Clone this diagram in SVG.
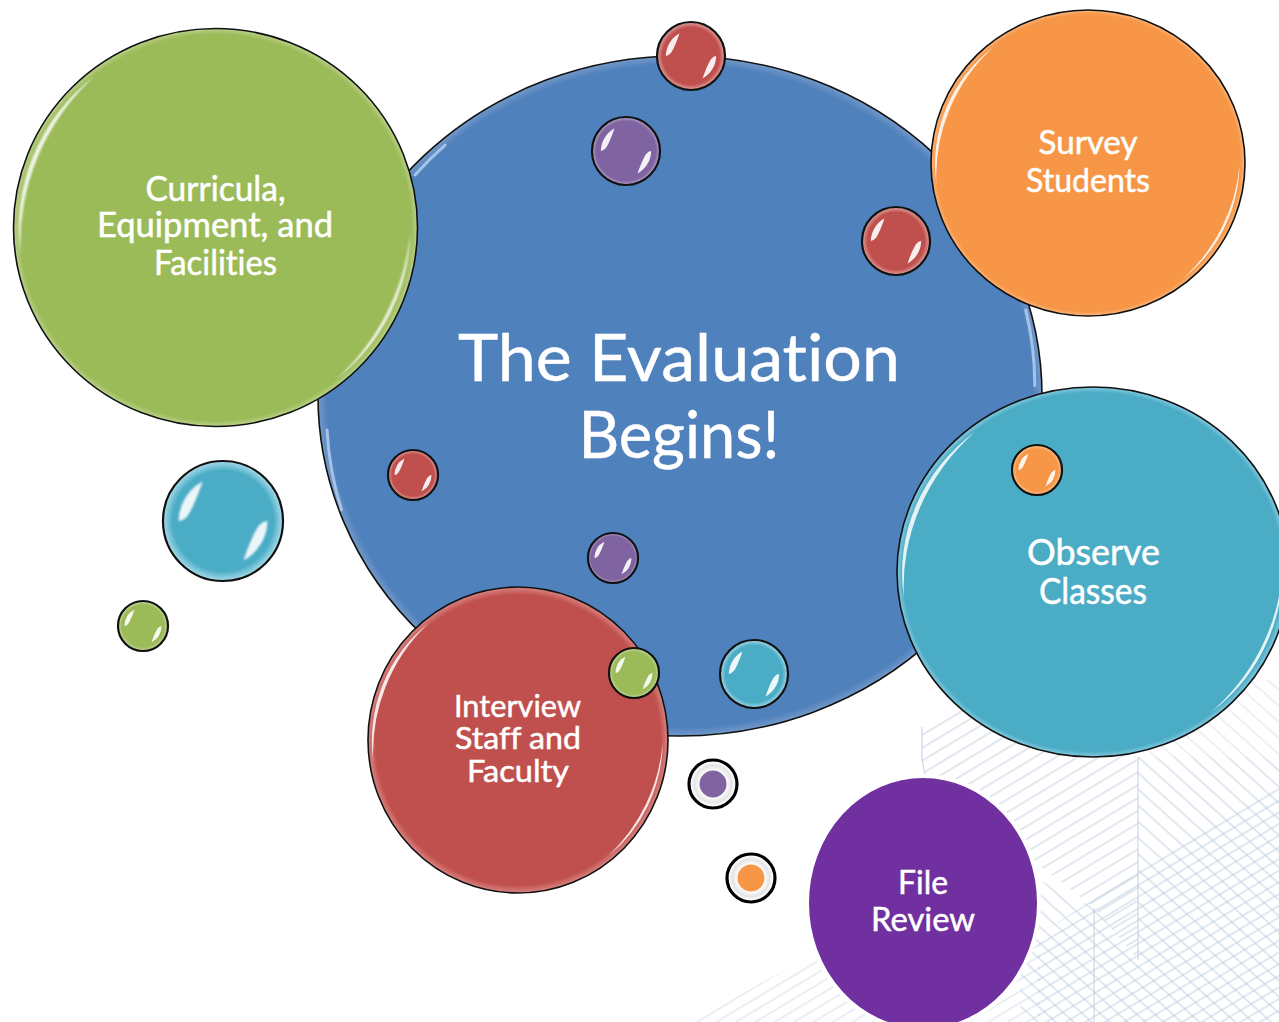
<svg xmlns="http://www.w3.org/2000/svg" xmlns:xlink="http://www.w3.org/1999/xlink" width="1279" height="1022" viewBox="0 0 1279 1022">
<style>
text{font-family:"Lato","Open Sans","Liberation Sans",sans-serif;fill:#fff;text-anchor:middle;font-variant-ligatures:none;stroke:#fff;stroke-width:.5}
.o{stroke:#111;stroke-width:1.6;vector-effect:non-scaling-stroke}
.os{stroke:#111;stroke-width:2.2;vector-effect:non-scaling-stroke}
.h{fill:none;stroke:#b4c4da;stroke-width:1;opacity:.8}
</style>
<defs>
<radialGradient id="gBlue"><stop offset=".975" stop-color="#4f81bd"/><stop offset="1" stop-color="#7399c9"/></radialGradient>
<radialGradient id="gGreen"><stop offset=".97" stop-color="#9bbb59"/><stop offset="1" stop-color="#bcd18c"/></radialGradient>
<radialGradient id="gOrange"><stop offset=".97" stop-color="#f79646"/><stop offset="1" stop-color="#fbb77f"/></radialGradient>
<radialGradient id="gTeal"><stop offset=".97" stop-color="#4bacc6"/><stop offset="1" stop-color="#85cbdf"/></radialGradient>
<radialGradient id="gRed"><stop offset=".95" stop-color="#c0504d"/><stop offset="1" stop-color="#d98583"/></radialGradient>
<radialGradient id="gPurple"><stop offset=".88" stop-color="#8064a2"/><stop offset="1" stop-color="#bcadcf"/></radialGradient>
<radialGradient id="sGreen"><stop offset=".84" stop-color="#9bbb59"/><stop offset="1" stop-color="#cadba3"/></radialGradient>
<radialGradient id="sTeal"><stop offset=".84" stop-color="#4bacc6"/><stop offset="1" stop-color="#a8dcea"/></radialGradient>
<radialGradient id="sRed"><stop offset=".84" stop-color="#c0504d"/><stop offset="1" stop-color="#e3a6a4"/></radialGradient>
<radialGradient id="sOrange"><stop offset=".84" stop-color="#f79646"/><stop offset="1" stop-color="#fbcb9c"/></radialGradient>
<radialGradient id="ringFill"><stop offset=".55" stop-color="#fff"/><stop offset=".78" stop-color="#e4e4e6"/><stop offset=".92" stop-color="#fff"/></radialGradient>
<filter id="soft" x="-10%" y="-10%" width="120%" height="120%"><feGaussianBlur stdDeviation=".004"/></filter>
<filter id="softS" x="-20%" y="-20%" width="140%" height="140%"><feGaussianBlur stdDeviation=".015"/></filter>
<path id="gloss" fill="#fff" opacity=".85" filter="url(#soft)" d="M-.965 .14A.972 .972 0 0 1-.6-.76A1.15 1.15 0 0 0-.965 .14ZM.965 .02A.972 .972 0 0 1 .6 .76A1.15 1.15 0 0 0 .965 .02Z"/>
<path id="glossB" fill="none" stroke="#a5c2e8" stroke-width="3" stroke-linecap="round" vector-effect="non-scaling-stroke" d="M-.732 -.65A.98 .98 0 0 1-.649 -.738M-.975 .1A.98 .98 0 0 0-.935 .335M.955 -.253A.98 .98 0 0 1 .98 -.03"/>
<path id="glossS" fill="#fff" opacity=".9" filter="url(#softS)" d="M-.74 0A.76 .76 0 0 1-.34-.66Q-.46 -.3-.58 -.1Q-.66 0-.74 0ZM.74 0A.76 .76 0 0 1 .34 .66Q.46 .3 .58 .1Q.66 0 .74 0Z"/>
<pattern id="hUp" width="14" height="11" patternUnits="userSpaceOnUse" patternTransform="rotate(-31)"><path class="h" d="M0 5H14"/></pattern>
<pattern id="hDown" width="14" height="12" patternUnits="userSpaceOnUse" patternTransform="rotate(42)"><path class="h" d="M0 5H14"/></pattern>
<pattern id="hUpF" width="14" height="10" patternUnits="userSpaceOnUse" patternTransform="rotate(-31)"><path class="h" d="M0 5H14"/></pattern>
</defs>

<rect width="1279" height="1022" fill="#fff"/>

<g id="background-hatch">
<polygon points="922,727 1138,600 1138,960 1094,908 925,775 922,760" fill="url(#hUp)"/>
<polygon points="1138,757 1279,757 1279,1022 1200,1022 1138,960" fill="url(#hDown)"/>
<polygon points="1150,680 1279,680 1279,757 1150,757" fill="url(#hDown)" opacity=".6"/>
<polygon points="1038,935 1279,780 1279,1022 1038,1022" fill="url(#hUpF)"/>
<polygon points="1020,870 1094,908 1200,1022 1020,1022" fill="url(#hDown)"/>
<polygon points="690,1022 830,945 1040,945 1040,1022" fill="url(#hUpF)" opacity=".7"/>
<path d="M922 727V760L925 775M1138 757V960M1094 908V1022" fill="none" stroke="#c3cfe2" stroke-width="1"/>
</g>

<g id="connectors"></g>

<g id="node-evaluation">
<g transform="translate(680 396) scale(362 340)"><circle r="1" fill="url(#gBlue)" class="o"/><use href="#glossB"/></g>
<text x="679" y="381" font-size="66" textLength="442" lengthAdjust="spacingAndGlyphs">The Evaluation</text>
<text x="679" y="458" font-size="66" textLength="201" lengthAdjust="spacingAndGlyphs">Begins!</text>
</g>

<g id="dot-red-top"><g transform="translate(691 56) scale(34)"><circle r="1" fill="url(#sRed)" class="os"/><use href="#glossS"/></g></g>
<g id="dot-purple-1"><g transform="translate(626 151) scale(34)"><circle r="1" fill="url(#gPurple)" class="os"/><use href="#glossS"/></g></g>
<g id="dot-red-right"><g transform="translate(896 241) scale(34)"><circle r="1" fill="url(#sRed)" class="os"/><use href="#glossS"/></g></g>
<g id="dot-red-left"><g transform="translate(413 475) scale(25)"><circle r="1" fill="url(#sRed)" class="os"/><use href="#glossS"/></g></g>
<g id="dot-purple-2"><g transform="translate(613 558) scale(25)"><circle r="1" fill="url(#gPurple)" class="os"/><use href="#glossS"/></g></g>
<g id="dot-teal-blue"><g transform="translate(754 674) scale(34)"><circle r="1" fill="url(#sTeal)" class="os"/><use href="#glossS"/></g></g>

<g id="node-curricula">
<g transform="translate(215.500 227.500) scale(202 199)"><circle r="1" fill="url(#gGreen)" class="o"/><use href="#gloss"/></g>
<text x="215.500" y="201" font-size="34" textLength="140" lengthAdjust="spacingAndGlyphs">Curricula,</text>
<text x="215" y="237" font-size="34" textLength="236" lengthAdjust="spacingAndGlyphs">Equipment, and</text>
<text x="215.500" y="275" font-size="34" textLength="123" lengthAdjust="spacingAndGlyphs">Facilities</text>
</g>

<g id="node-survey">
<g transform="translate(1088 163) scale(157 153)"><circle r="1" fill="url(#gOrange)" class="o"/><use href="#gloss"/></g>
<text x="1088" y="154" font-size="33" textLength="99" lengthAdjust="spacingAndGlyphs">Survey</text>
<text x="1088" y="192" font-size="33" textLength="124" lengthAdjust="spacingAndGlyphs">Students</text>
</g>

<g id="node-observe">
<g transform="translate(1093 572) scale(196 185)"><circle r="1" fill="url(#gTeal)" class="o"/><use href="#gloss"/></g>
<text x="1093.500" y="565" font-size="36" textLength="133" lengthAdjust="spacingAndGlyphs">Observe</text>
<text x="1093" y="604" font-size="36" textLength="108" lengthAdjust="spacingAndGlyphs">Classes</text>
</g>
<g id="dot-orange"><g transform="translate(1037 470) scale(25)"><circle r="1" fill="url(#sOrange)" class="os"/><use href="#glossS"/></g></g>

<g id="node-interview">
<g transform="translate(518 740) scale(150 153)"><circle r="1" fill="url(#gRed)" class="o"/><use href="#gloss"/></g>
<text x="517.500" y="717" font-size="31" textLength="127" lengthAdjust="spacingAndGlyphs">Interview</text>
<text x="518" y="749" font-size="31" textLength="126" lengthAdjust="spacingAndGlyphs">Staff and</text>
<text x="518" y="782" font-size="31" textLength="102" lengthAdjust="spacingAndGlyphs">Faculty</text>
</g>
<g id="dot-green-red"><g transform="translate(634 673) scale(25)"><circle r="1" fill="url(#sGreen)" class="os"/><use href="#glossS"/></g></g>

<g id="dot-teal-large"><g transform="translate(223 521) scale(60)"><circle r="1" fill="url(#sTeal)" class="os"/><use href="#glossS"/></g></g>
<g id="dot-green-small"><g transform="translate(143 626) scale(25)"><circle r="1" fill="url(#sGreen)" class="os"/><use href="#glossS"/></g></g>

<g id="dot-ring-purple"><circle cx="713" cy="784" r="24" fill="url(#ringFill)" stroke="#000" stroke-width="3.200"/><circle cx="713" cy="784" r="13.500" fill="#8064a2"/></g>
<g id="dot-ring-orange"><circle cx="751" cy="878" r="24" fill="url(#ringFill)" stroke="#000" stroke-width="3.200"/><circle cx="751" cy="878" r="13.500" fill="#f79646"/></g>

<g id="node-file">
<ellipse cx="923" cy="903" rx="116" ry="127" fill="#7030a0" stroke="#fff" stroke-width="4"/>
<text x="923" y="894" font-size="33" textLength="50" lengthAdjust="spacingAndGlyphs">File</text>
<text x="923" y="931" font-size="33" textLength="104" lengthAdjust="spacingAndGlyphs">Review</text>
</g>
</svg>
